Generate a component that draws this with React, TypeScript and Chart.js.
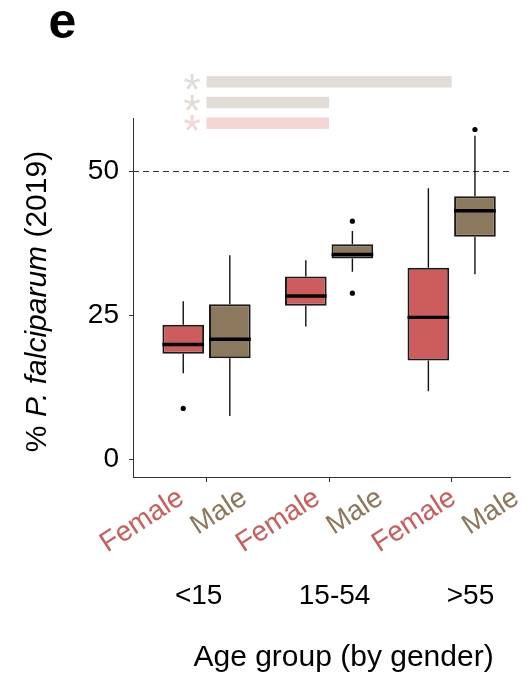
import React, { useEffect, useRef } from 'react';
import { Chart, registerables } from 'chart.js';

Chart.register(...registerables);

// ---------- data ----------
const GROUPS = ['<15', '15-54', '>55'];
const SEXES = ['Female', 'Male'];
const Y_TICKS = [0, 25, 50];
const REFERENCE_LINE = 50;

const FEMALE_MIN = [14.9, 23.0, 11.8];
const FEMALE_Q1 = [18.3, 26.6, 17.1];
const FEMALE_MEDIAN = [19.9, 28.3, 24.6];
const FEMALE_Q3 = [23.3, 31.7, 33.2];
const FEMALE_MAX = [27.4, 34.5, 47.0];
const FEMALE_OUTLIERS = [[8.8], [], []];

const MALE_MIN = [7.5, 32.5, 32.1];
const MALE_Q1 = [17.5, 34.8, 38.6];
const MALE_MEDIAN = [20.8, 35.5, 43.1];
const MALE_Q3 = [26.9, 37.3, 45.6];
const MALE_MAX = [35.4, 39.6, 56.1];
const MALE_OUTLIERS = [[], [41.3, 28.8], [57.2]];

// significance comparisons (top to bottom)
const SIG_PAIRS = [['<15', '>55'], ['<15', '15-54'], ['<15', '15-54']];
const SIG_SEX = ['Male', 'Male', 'Female'];
const SIG_LABELS = ['*', '*', '*'];

// ---------- styles ----------
const FILL = { Female: '#CD5C5C', Male: '#8B785D' };
const LIGHT = { Female: '#F4D4D5', Male: '#E1DDD6' };
const FONT = '"Liberation Sans", Arial, Helvetica, sans-serif';
const LABEL_ANGLE = (33 * Math.PI) / 180;

const STATS = [
  { min: FEMALE_MIN, q1: FEMALE_Q1, med: FEMALE_MEDIAN, q3: FEMALE_Q3, max: FEMALE_MAX, out: FEMALE_OUTLIERS },
  { min: MALE_MIN, q1: MALE_Q1, med: MALE_MEDIAN, q3: MALE_Q3, max: MALE_MAX, out: MALE_OUTLIERS },
];

const boxExtras = {
  id: 'boxExtras',
  beforeDatasetsDraw(chart: any) {
    const { ctx, chartArea, scales } = chart;
    const y = scales.y;
    ctx.save();
    // reference dashed line
    ctx.strokeStyle = '#333333';
    ctx.lineWidth = 1.2;
    ctx.setLineDash([6, 4]);
    const py = Math.round(y.getPixelForValue(REFERENCE_LINE)) + 0.5;
    ctx.beginPath();
    ctx.moveTo(chartArea.left, py);
    ctx.lineTo(chartArea.right, py);
    ctx.stroke();
    ctx.setLineDash([]);
    // whiskers
    ctx.strokeStyle = '#111111';
    ctx.lineWidth = 1.4;
    chart.data.datasets.forEach((_ds: any, di: number) => {
      const meta = chart.getDatasetMeta(di);
      const st = STATS[di];
      meta.data.forEach((el: any, i: number) => {
        const x = el.x;
        ctx.beginPath();
        ctx.moveTo(x, y.getPixelForValue(st.max[i]));
        ctx.lineTo(x, y.getPixelForValue(st.q3[i]));
        ctx.moveTo(x, y.getPixelForValue(st.q1[i]));
        ctx.lineTo(x, y.getPixelForValue(st.min[i]));
        ctx.stroke();
      });
    });
    ctx.restore();
  },
  afterDatasetsDraw(chart: any) {
    const { ctx, scales } = chart;
    const y = scales.y;
    ctx.save();
    chart.data.datasets.forEach((_ds: any, di: number) => {
      const meta = chart.getDatasetMeta(di);
      const st = STATS[di];
      meta.data.forEach((el: any, i: number) => {
        const x = el.x;
        const w = el.width;
        // median
        ctx.strokeStyle = '#000000';
        ctx.lineWidth = 3.4;
        const my = y.getPixelForValue(st.med[i]);
        ctx.beginPath();
        ctx.moveTo(x - w / 2, my);
        ctx.lineTo(x + w / 2, my);
        ctx.stroke();
        // outliers
        ctx.fillStyle = '#000000';
        st.out[i].forEach((v: number) => {
          ctx.beginPath();
          ctx.arc(x, y.getPixelForValue(v), 2.6, 0, Math.PI * 2);
          ctx.fill();
        });
      });
    });
    ctx.restore();
  },
  afterDraw(chart: any) {
    const { ctx, chartArea, scales } = chart;
    const x = scales.x;
    const x2 = scales.x2;
    ctx.save();

    // significance bars
    SIG_PAIRS.forEach((pair, k) => {
      const level = SIG_PAIRS.length - 1 - k;
      const cy = chartArea.top + 5.2 - level * 20.7;
      const xa = x.getPixelForValue(GROUPS.indexOf(pair[0]) + 1);
      const xb = x.getPixelForValue(GROUPS.indexOf(pair[1]) + 1);
      const col = (LIGHT as any)[SIG_SEX[k]];
      ctx.fillStyle = col;
      ctx.fillRect(xa, cy - 5.7, xb - xa, 11.4);
      ctx.font = `44px ${FONT}`;
      ctx.textAlign = 'center';
      ctx.textBaseline = 'alphabetic';
      const m = ctx.measureText(SIG_LABELS[k]);
      const off = (m.actualBoundingBoxAscent - m.actualBoundingBoxDescent) / 2;
      ctx.fillText(SIG_LABELS[k], xa - 14.5, cy + off);
    });

    // panel letter
    ctx.fillStyle = '#000000';
    ctx.font = `bold 50px ${FONT}`;
    ctx.textAlign = 'left';
    ctx.textBaseline = 'alphabetic';
    ctx.fillText('e', 48.5, 38);

    // y title with italic species name
    const parts = [
      { t: '% ', it: false },
      { t: 'P. falciparum', it: true },
      { t: ' (2019)', it: false },
    ];
    let total = 0;
    parts.forEach((p) => {
      ctx.font = `${p.it ? 'italic ' : ''}30px ${FONT}`;
      total += ctx.measureText(p.t).width;
    });
    ctx.save();
    ctx.translate(45.5, (chartArea.top + chartArea.bottom) / 2 + 4);
    ctx.rotate(-Math.PI / 2);
    let cx = -total / 2;
    parts.forEach((p) => {
      ctx.font = `${p.it ? 'italic ' : ''}30px ${FONT}`;
      ctx.fillText(p.t, cx, 0);
      cx += ctx.measureText(p.t).width;
    });
    ctx.restore();

    // rotated sex labels under each box
    ctx.font = `28px ${FONT}`;
    ctx.textAlign = 'right';
    GROUPS.forEach((_g, gi) => {
      SEXES.forEach((s, si) => {
        const px = x2.getPixelForValue(gi + 1) + (si === 0 ? -13 : 50);
        ctx.save();
        ctx.translate(px, 502);
        ctx.rotate(-LABEL_ANGLE);
        ctx.fillStyle = (FILL as any)[s];
        ctx.fillText(s, 0, 0);
        ctx.restore();
      });
    });

    // x title
    ctx.fillStyle = '#000000';
    ctx.font = `30px ${FONT}`;
    ctx.textAlign = 'center';
    ctx.fillText('Age group (by gender)', x2.getPixelForValue(2) + 9, 666);

    ctx.restore();
  },
};

export default function App() {
  const ref = useRef<HTMLCanvasElement>(null);

  useEffect(() => {
    const canvas = ref.current;
    if (!canvas) return;
    const chart = new Chart(canvas, {
      type: 'bar',
      data: {
        datasets: SEXES.map((s, si) => ({
          label: s,
          data: GROUPS.map((_g, gi) => ({ x: gi + 1, y: [STATS[si].q1[gi], STATS[si].q3[gi]] })),
          backgroundColor: (FILL as any)[s],
          borderColor: '#1a1a1a',
          borderWidth: 2,
          borderSkipped: false,
          categoryPercentage: 0.76,
          barPercentage: 0.895,
        })) as any,
      },
      options: {
        responsive: false,
        animation: false,
        events: [],
        layout: { padding: { top: 118, right: 15, bottom: 0, left: 0 } },
        plugins: { legend: { display: false }, tooltip: { enabled: false } },
        scales: {
          x: {
            type: 'linear',
            position: 'bottom',
            min: 0.4,
            max: 3.476,
            offset: false,
            weight: 0,
            afterBuildTicks: (scale: any) => {
              scale.ticks = GROUPS.map((_g, i) => ({ value: i + 1 }));
            },
            afterFit: (scale: any) => {
              scale.height = 10;
            },
            ticks: { display: false, padding: 0 },
            grid: {
              offset: false,
              drawOnChartArea: false,
              drawTicks: true,
              tickLength: 5,
              color: '#333333',
              lineWidth: 1,
            },
            border: { display: true, color: '#333333', width: 1 },
          },
          x2: {
            type: 'linear',
            position: 'bottom',
            min: 0.517,
            max: 3.291,
            offset: false,
            weight: 1,
            afterBuildTicks: (scale: any) => {
              scale.ticks = GROUPS.map((_g, i) => ({ value: i + 1 }));
            },
            afterFit: (scale: any) => {
              scale.height = 194;
            },
            ticks: {
              callback: (_v: any, i: number) => GROUPS[i],
              font: { family: FONT, size: 28 },
              color: '#000000',
              padding: 0,
              maxRotation: 0,
              minRotation: 0,
              autoSkip: false,
            },
            grid: { display: false, drawTicks: true, tickLength: 92 },
            border: { display: false },
          },
          y: {
            type: 'linear',
            min: -3.1,
            max: 59.2,
            afterBuildTicks: (scale: any) => {
              scale.ticks = Y_TICKS.map((v) => ({ value: v }));
            },
            afterFit: (scale: any) => {
              scale.width = 133;
            },
            ticks: {
              font: { family: FONT, size: 28 },
              color: '#000000',
              padding: 10,
            },
            grid: {
              drawOnChartArea: false,
              drawTicks: true,
              tickLength: 4,
              color: '#333333',
              lineWidth: 1,
            },
            border: { display: true, color: '#333333', width: 1 },
          },
        },
      } as any,
      plugins: [boxExtras],
    });
    return () => chart.destroy();
  }, []);

  return (
    <div style={{ position: 'absolute', left: 0, top: 0, width: 525, height: 681, background: '#ffffff' }}>
      <canvas ref={ref} width={525} height={681} style={{ display: 'block', width: 525, height: 681 }} />
    </div>
  );
}
